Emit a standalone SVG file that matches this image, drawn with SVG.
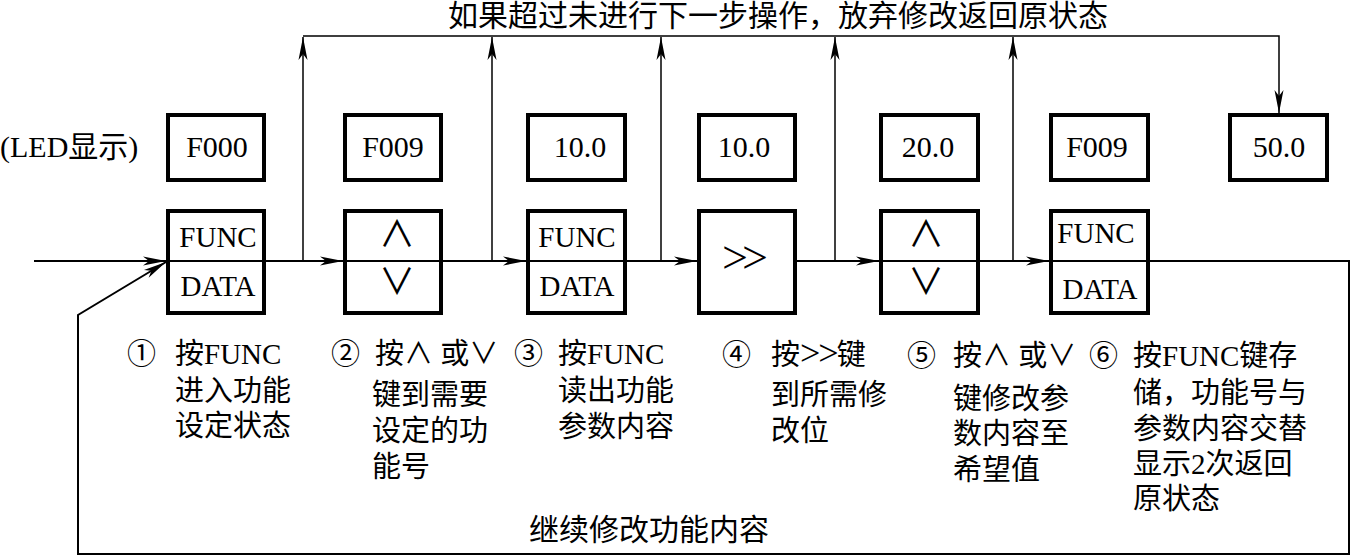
<svg xmlns="http://www.w3.org/2000/svg" width="1351" height="556" viewBox="0 0 1351 556">
<style>
.bg{fill:#ffffff}
.box{fill:none;stroke:#000;stroke-width:4}
.div{stroke:#000;stroke-width:2}
.ln{fill:none;stroke:#000;stroke-width:2}
.thin{fill:none;stroke:#000;stroke-width:1.5}
.t{font-family:"Liberation Serif","Noto Sans CJK SC",serif;font-size:30px;fill:#000}
.k{font-family:"Liberation Serif","Noto Sans CJK SC",serif;font-size:29px;fill:#000}
.sym{font-family:"Noto Sans CJK SC",sans-serif;font-size:36px;fill:#000}
.c{font-family:"Liberation Serif","Noto Sans CJK SC",serif;font-size:29px;fill:#000}
.m{text-anchor:middle}
</style>
<defs>
<marker id="ah" markerUnits="userSpaceOnUse" markerWidth="24" markerHeight="10" viewBox="-23 -5 24 10" refX="0" refY="0" orient="auto" overflow="visible">
<path d="M0,0 L-23,-4.5 L-17,0 L-23,4.5 Z" fill="#000"/>
</marker>
</defs>
<rect class="bg" x="0" y="0" width="1351" height="556"/>

<g id="title">
<text class="t" x="448" y="26">如果超过未进行下一步操作，放弃修改返回原状态</text>
</g>
<g id="led-label">
<text class="t" x="0" y="157">(LED显示)</text>
</g>

<g id="connectors">
<line class="ln" x1="34" y1="261" x2="166" y2="261" marker-end="url(#ah)"/>
<line class="ln" x1="266" y1="261" x2="343" y2="261" marker-end="url(#ah)"/>
<line class="ln" x1="443" y1="261" x2="526" y2="261" marker-end="url(#ah)"/>
<line class="ln" x1="627" y1="261" x2="697" y2="261" marker-end="url(#ah)"/>
<line class="ln" x1="797" y1="261" x2="879" y2="261" marker-end="url(#ah)"/>
<line class="ln" x1="980" y1="261" x2="1049" y2="261" marker-end="url(#ah)"/>
<line class="thin" x1="303" y1="261" x2="303" y2="37" marker-end="url(#ah)"/>
<line class="thin" x1="492" y1="261" x2="492" y2="37" marker-end="url(#ah)"/>
<line class="thin" x1="661" y1="261" x2="661" y2="37" marker-end="url(#ah)"/>
<line class="thin" x1="835" y1="261" x2="835" y2="37" marker-end="url(#ah)"/>
<line class="thin" x1="1013" y1="261" x2="1013" y2="37" marker-end="url(#ah)"/>
<path class="thin" d="M303,36 L1279,36 L1279,113" marker-end="url(#ah)"/>
<path class="ln" d="M1150,261 L1349,261 L1349,554 L78,554 L78,315 L166,262" marker-end="url(#ah)"/>
</g>

<g id="led1"><rect class="box" x="168" y="115" width="96" height="65"/><text class="t m" x="217" y="157">F000</text></g>
<g id="led2"><rect class="box" x="345" y="115" width="96" height="65"/><text class="t m" x="393" y="157">F009</text></g>
<g id="led3"><rect class="box" x="528" y="115" width="97" height="65"/><text class="t m" x="580" y="157">10.0</text></g>
<g id="led4"><rect class="box" x="699" y="115" width="96" height="65"/><text class="t m" x="744" y="157">10.0</text></g>
<g id="led5"><rect class="box" x="881" y="115" width="97" height="65"/><text class="t m" x="928" y="157">20.0</text></g>
<g id="led6"><rect class="box" x="1051" y="115" width="97" height="65"/><text class="t m" x="1097" y="157">F009</text></g>
<g id="led7"><rect class="box" x="1230" y="115" width="97" height="65"/><text class="t m" x="1279" y="157">50.0</text></g>

<g id="key1"><rect class="box" x="168" y="211" width="96" height="102"/><line class="div" x1="168" y1="261" x2="264" y2="261"/><text class="k m" x="218" y="247">FUNC</text><text class="k m" x="218" y="296">DATA</text></g>
<g id="key2"><rect class="box" x="345" y="211" width="96" height="102"/><line class="div" x1="345" y1="261" x2="441" y2="261"/><text class="sym m" x="397" y="247">∧</text><text class="sym m" x="397" y="295">∨</text></g>
<g id="key3"><rect class="box" x="528" y="211" width="97" height="102"/><line class="div" x1="528" y1="261" x2="625" y2="261"/><text class="k m" x="577" y="247">FUNC</text><text class="k m" x="577" y="296">DATA</text></g>
<g id="key4"><rect class="box" x="699" y="211" width="96" height="102"/><text class="t m" x="742" y="273" style="font-size:46px;letter-spacing:-6px">&gt;&gt;</text></g>
<g id="key5"><rect class="box" x="881" y="211" width="97" height="102"/><line class="div" x1="881" y1="261" x2="978" y2="261"/><text class="sym m" x="926" y="247">∧</text><text class="sym m" x="926" y="295">∨</text></g>
<g id="key6"><rect class="box" x="1051" y="211" width="97" height="102"/><line class="div" x1="1051" y1="261" x2="1148" y2="261"/><text class="k m" x="1096" y="243">FUNC</text><text class="k m" x="1100" y="299">DATA</text></g>

<g id="step1">
<text class="c" x="127" y="364">①</text>
<text class="c" x="175" y="364">按FUNC</text>
<text class="c" x="175" y="401">进入功能</text>
<text class="c" x="175" y="436">设定状态</text>
</g>
<g id="step2">
<text class="c" x="331" y="364">②</text>
<text class="c" x="375" y="364">按∧ 或∨</text>
<text class="c" x="372" y="405">键到需要</text>
<text class="c" x="372" y="441">设定的功</text>
<text class="c" x="372" y="477">能号</text>
</g>
<g id="step3">
<text class="c" x="514" y="364">③</text>
<text class="c" x="558" y="364">按FUNC</text>
<text class="c" x="558" y="401">读出功能</text>
<text class="c" x="558" y="437">参数内容</text>
</g>
<g id="step4">
<text class="c" x="722" y="365">④</text>
<text class="c" x="771" y="365">按<tspan style="font-size:36px;letter-spacing:-2px">&gt;&gt;</tspan>键</text>
<text class="c" x="771" y="405">到所需修</text>
<text class="c" x="771" y="441">改位</text>
</g>
<g id="step5">
<text class="c" x="907" y="366">⑤</text>
<text class="c" x="953" y="366">按∧ 或∨</text>
<text class="c" x="953" y="409">键修改参</text>
<text class="c" x="953" y="444">数内容至</text>
<text class="c" x="953" y="480">希望值</text>
</g>
<g id="step6">
<text class="c" x="1089" y="366">⑥</text>
<text class="c" x="1133" y="366">按FUNC键存</text>
<text class="c" x="1133" y="403">储，功能号与</text>
<text class="c" x="1133" y="439">参数内容交替</text>
<text class="c" x="1133" y="474">显示2次返回</text>
<text class="c" x="1133" y="509">原状态</text>
</g>
<g id="loop-label">
<text class="t" x="529" y="540">继续修改功能内容</text>
</g>
</svg>
